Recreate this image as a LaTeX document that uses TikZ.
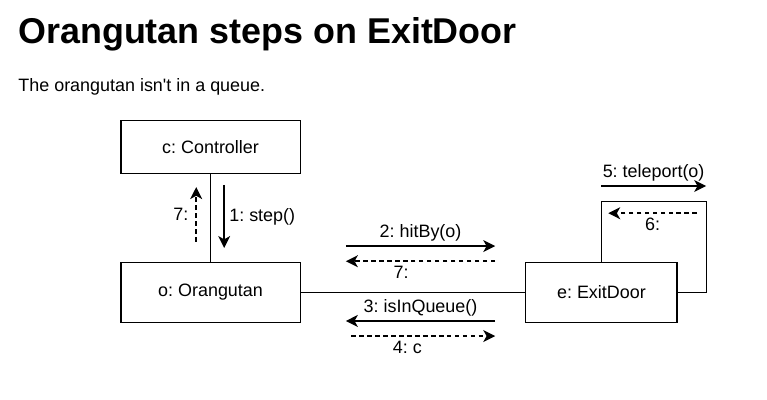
\documentclass[tikz,border=0pt]{standalone}
\usepackage{fontspec}
\setmainfont{Liberation Sans}
\usetikzlibrary{arrows.meta}
\frenchspacing

\begin{document}
\begin{tikzpicture}[
    >=Stealth,
    font=\fontsize{13.5}{16}\selectfont,
    object/.style={rectangle, draw, line width=0.9pt, minimum width=4.74cm, minimum height=1.59cm, align=center, fill=white},
    link/.style={line width=0.9pt},
    msg/.style={-{Stealth[length=9pt, width=9pt, inset=2.5pt]}, line width=1.1pt},
    reply/.style={msg, dash pattern=on 3.5pt off 2.5pt},
    heading/.style={anchor=base west, inner sep=0pt}
]
\useasboundingbox (0,0) rectangle (20.29,-10.58);
\node[heading, font=\fontsize{27}{32}\selectfont\bfseries] (title) at (0.48,-1.14) {Orangutan steps on ExitDoor};
\node[heading] (subtitle) at (0.48,-2.41) {The orangutan isn\textquotesingle t in a queue.};

\node[object, minimum height=1.40cm] (ctrl) at (5.57,-3.88) {c: Controller};
\node[object] (orang) at (5.57,-7.73) {o: Orangutan};
\node[object, minimum width=4.0cm] (exit) at (15.91,-7.73) {e: ExitDoor};

\draw[link] (ctrl) -- (orang);
\draw[link] (orang) -- (exit);
\coordinate (loop) at (18.68,-5.34);
\draw[link] (exit.north) |- (loop) |- (exit.east);

% message ends
\coordinate (s1) at (5.93,-4.89);  \coordinate (e1) at (5.93,-6.56);
\coordinate (s7a) at (5.19,-6.40); \coordinate (e7a) at (5.19,-4.95);
\coordinate (s2) at (9.15,-6.51);  \coordinate (e2) at (13.10,-6.51);
\coordinate (s7b) at (13.10,-6.91); \coordinate (e7b) at (9.15,-6.91);
\coordinate (s3) at (13.10,-8.49); \coordinate (e3) at (9.15,-8.49);
\coordinate (s4) at (9.29,-8.89);  \coordinate (e4) at (13.10,-8.89);
\coordinate (s5) at (15.90,-4.92); \coordinate (e5) at (18.68,-4.92);
\coordinate (s6) at (18.44,-5.64); \coordinate (e6) at (16.09,-5.64);

\draw[msg] (s1) -- node[right] {1: step()} (e1);
\draw[reply] (s7a) -- node[left, xshift=-2pt] {7:} (e7a);
\draw[msg] (s2) -- node[above] {2: hitBy(o)} (e2);
\draw[reply] (s7b) -- node[below, pos=0.63] {7:} (e7b);
\draw[msg] (s3) -- node[above] {3: isInQueue()} (e3);
\draw[reply] (s4) -- node[below, pos=0.39] {4: c} (e4);
\draw[msg] (s5) -- node[above] {5: teleport(o)} (e5);
\draw[reply] (s6) -- node[below] {6:} (e6);
\end{tikzpicture}
\end{document}
